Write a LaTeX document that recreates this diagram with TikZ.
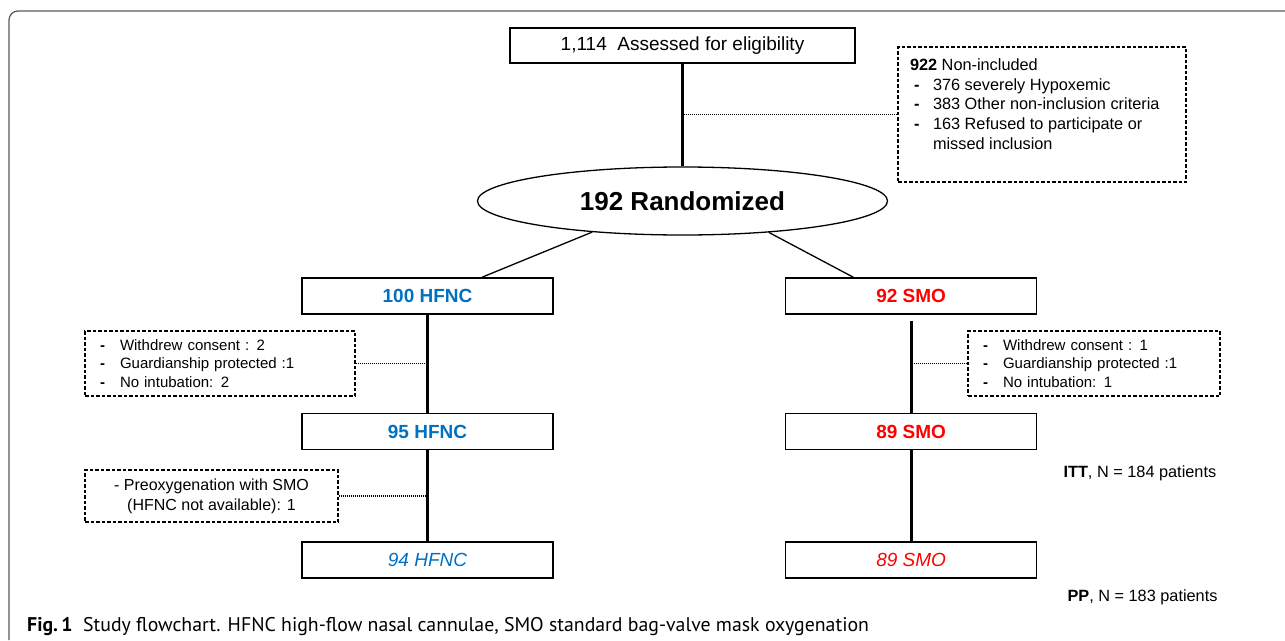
\documentclass[tikz,border=0pt]{standalone}
\usepackage{fontspec}
\setmainfont{Liberation Sans}
\newfontfamily\capfont{PT Sans}
\usetikzlibrary{shapes.geometric,positioning}

\definecolor{hfncblue}{RGB}{0,112,192}
\definecolor{smored}{RGB}{255,0,0}

% bold hyphen used as a list marker, #1 = room for the marker, #2 = indent
\newcommand{\listdash}[2]{\makebox[#1][l]{\hspace*{#2}\textbf{-}}}

\begin{document}
\begin{tikzpicture}[
  x=1pt,
  y=-1pt,
  arm/.style={draw, line width=1.6pt, minimum width=251pt, minimum height=36pt,
    inner sep=0pt, font=\fontsize{19}{22}\selectfont\bfseries},
  note/.style={draw, line width=1.1pt, dash pattern=on 3.5pt off 2pt,
    inner sep=0pt, font=\fontsize{15}{18.5}\selectfont},
  trunk/.style={line width=3.2pt},
  branch/.style={line width=1.3pt},
  leader/.style={line width=1.1pt, dash pattern=on 1pt off 1pt},
  frame/.style={draw=black!65, line width=1.2pt, rounded corners=9pt}
]
  \useasboundingbox (0,0) rectangle (1285,640);
  \draw[frame] (9,640) -- (9,11) -- (1285,11);

  % screening and randomisation
  \node[arm, minimum width=345pt, minimum height=35pt,
    font=\fontsize{19}{22}\selectfont] (assess) at (682.5,45.5)
    {1,114\ \ Assessed for eligibility};
  \node[note, minimum width=288pt, minimum height=135pt, font=\fontsize{16.3}{19.75}\selectfont]
    (excl) at (1042,114.5) {\parbox[c][112pt][t]{264pt}{\raggedright
      \textbf{922} Non-included\\
      \listdash{23pt}{4pt}376 severely Hypoxemic\\
      \listdash{23pt}{4pt}383 Other non-inclusion criteria\\
      \listdash{23pt}{4pt}163 Refused to participate or\\
      \hspace*{23pt}missed inclusion}};
  \node[ellipse, draw, line width=1.3pt, minimum width=410pt, minimum height=68pt,
    inner sep=0pt, font=\fontsize{26}{30}\selectfont\bfseries] (rand) at (682.5,201)
    {192 Randomized};

  % the two arms
  \node[arm, text=hfncblue] (hfncA) at (427.5,296) {100 HFNC};
  \node[arm, text=smored, right=231pt of hfncA] (smoA) {92 SMO};
  \node[arm, text=hfncblue, below=98pt of hfncA] (hfncB) {95 HFNC};
  \node[arm, text=smored, below=98pt of smoA] (smoB) {89 SMO};
  \node[arm, text=hfncblue, below=91pt of hfncB, font=\fontsize{19}{22}\selectfont\itshape]
    (hfncC) {94 HFNC};
  \node[arm, text=smored, below=91pt of smoB, font=\fontsize{19}{22}\selectfont\itshape]
    (smoC) {89 SMO};

  % exclusions after randomisation
  \node[note, minimum width=270pt, minimum height=65pt, text width=240pt, align=left]
    (lossA) at (220,363.5) {\listdash{20pt}{0pt}Withdrew consent : 2\\
      \listdash{20pt}{0pt}Guardianship protected :1\\
      \listdash{20pt}{0pt}No intubation: 2};
  \node[note, minimum width=252pt, minimum height=65pt, text width=222pt, align=left]
    (lossB) at (1094,363.5) {\listdash{20pt}{0pt}Withdrew consent : 1\\
      \listdash{20pt}{0pt}Guardianship protected :1\\
      \listdash{20pt}{0pt}No intubation: 1};
  \node[note, minimum width=253pt, minimum height=52pt, align=center,
    font=\fontsize{16}{20}\selectfont] (preox) at (211.5,496)
    {- Preoxygenation with SMO\\(HFNC not available): 1};

  \node[anchor=base west, font=\fontsize{16.3}{19}\selectfont] (itt) at (1060,477)
    {\textbf{ITT}, N = 184 patients};
  \node[anchor=base west, font=\fontsize{16.3}{19}\selectfont] (pp) at (1064,601)
    {\textbf{PP}, N = 183 patients};

  \node[anchor=base west, inner sep=0pt, font=\capfont\fontsize{19.8}{22}\selectfont]
    (caption) at (27,631) {\textbf{Fig.\,1}\ \ Study flowchart. HFNC high-flow nasal
    cannulae, SMO standard bag-valve mask oxygenation};

  \draw[trunk] (assess) -- (rand);
  \draw[leader] (excl.west) -- (excl.west -| assess);
  \draw[branch] (rand.199) -- (hfncA.19);
  \draw[branch] (rand.340) -- (smoA.162);

  \draw[trunk] (hfncA) -- (hfncB);
  \draw[trunk] (hfncB) -- (hfncC);
  \draw[trunk] ([yshift=-6pt]smoA.south) -- (smoB);
  \draw[trunk] (smoB) -- (smoC);
  \draw[leader] (lossA.east) -- (lossA.east -| hfncA);
  \draw[leader] (lossB.west) -- (lossB.west -| smoA);
  \draw[leader] (preox.east) -- (preox.east -| hfncB);
\end{tikzpicture}
\end{document}
